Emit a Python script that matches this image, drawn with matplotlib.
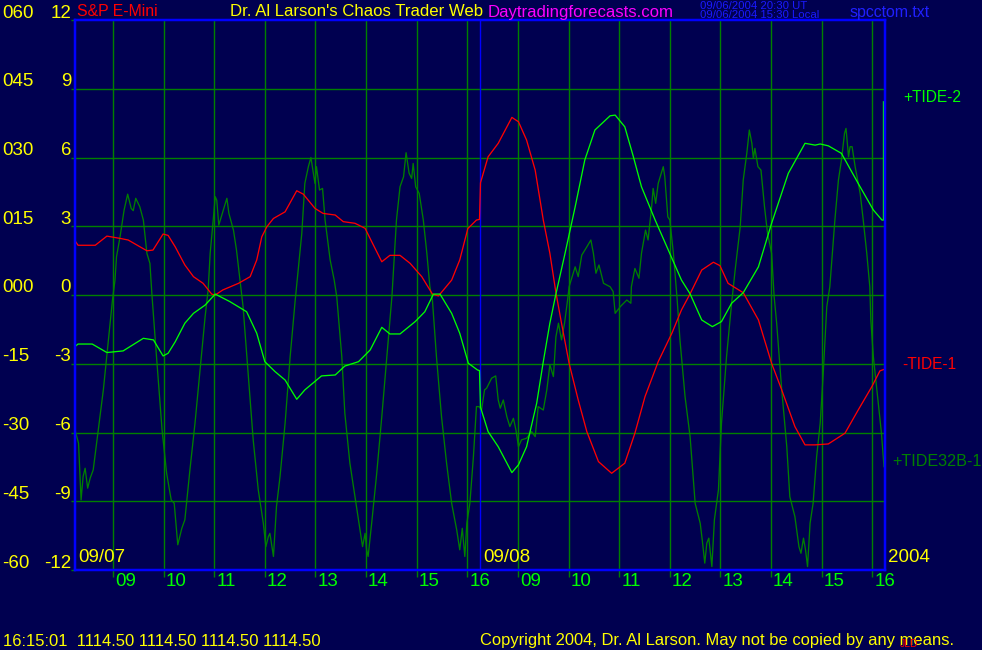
import matplotlib
matplotlib.use('Agg')
import matplotlib.pyplot as plt
import matplotlib.transforms as mtransforms

plt.rcParams['font.family'] = ['Liberation Sans', 'DejaVu Sans']

# ---------------- data ----------------
# x axis: trading hours counted from 08:15 on 09/07 (two sessions of 8 hours)
tide1_t = [0.00, 0.06, 0.40, 0.63, 0.89, 1.05, 1.42, 1.54, 1.74, 1.84, 1.98, 2.17, 2.34, 2.53,
           2.70, 2.77, 2.92, 3.23, 3.46, 3.59, 3.69, 3.79, 3.92, 4.15, 4.38, 4.51, 4.74, 4.90,
           5.14, 5.30, 5.53, 5.73, 5.86, 6.06, 6.22, 6.42, 6.62, 6.85, 7.06, 7.18, 7.44, 7.60,
           7.76, 7.93, 7.99, 8.01, 8.16, 8.36, 8.63, 8.76, 8.92, 9.09, 9.25, 9.38, 9.50, 9.61,
           9.76, 9.94, 10.11, 10.34, 10.60, 10.86, 11.06, 11.26, 11.52, 11.79, 11.98, 12.15,
           12.38, 12.61, 12.74, 12.90, 13.20, 13.50, 13.76, 13.96, 14.22, 14.42, 14.62, 14.88,
           15.21, 15.47, 15.74, 15.90, 15.99]
tide1_v = [2.37, 2.17, 2.17, 2.57, 2.47, 2.40, 1.93, 1.96, 2.66, 2.60, 2.10, 1.31, 0.80, 0.51,
           0.04, 0.00, 0.22, 0.51, 0.80, 1.53, 2.54, 2.98, 3.34, 3.63, 4.55, 4.40, 3.78, 3.56,
           3.49, 3.20, 3.13, 2.91, 2.33, 1.45, 1.73, 1.73, 1.38, 0.80, 0.04, -0.04, 0.65, 1.53,
           2.90, 3.27, 3.30, 4.90, 6.03, 6.62, 7.75, 7.56, 6.76, 5.45, 3.27, 1.82, 0.10, -1.23,
           -2.98, -4.58, -5.96, -7.27, -7.78, -7.34, -6.03, -4.43, -2.91, -1.67, -0.65, 0.05,
           1.09, 1.43, 1.28, 0.51, 0.10, -1.09, -2.98, -4.14, -5.74, -6.54, -6.54, -6.50,
           -6.03, -5.02, -4.00, -3.31, -3.24]

tide2_t = [0.00, 0.06, 0.34, 0.63, 0.95, 1.35, 1.55, 1.74, 1.84, 1.98, 2.17, 2.34, 2.57, 2.77,
           3.06, 3.39, 3.59, 3.75, 3.95, 4.15, 4.38, 4.54, 4.87, 5.14, 5.33, 5.60, 5.83, 6.06,
           6.22, 6.42, 6.72, 6.91, 7.08, 7.21, 7.44, 7.60, 7.77, 7.95, 7.99, 8.01, 8.16, 8.36,
           8.63, 8.76, 8.92, 9.12, 9.25, 9.38, 9.50, 9.68, 9.88, 10.07, 10.27, 10.57, 10.67,
           10.86, 11.03, 11.19, 11.46, 11.72, 11.98, 12.15, 12.38, 12.59, 12.77, 12.97, 13.20,
           13.50, 13.76, 14.09, 14.42, 14.62, 14.72, 14.88, 15.14, 15.47, 15.77, 15.94, 15.97,
           15.97]
tide2_v = [-2.25, -2.14, -2.14, -2.51, -2.44, -1.89, -1.96, -2.66, -2.54, -2.04, -1.23, -0.80,
           -0.44, 0.04, -0.29, -0.73, -1.67, -2.91, -3.34, -3.71, -4.55, -4.14, -3.53, -3.49,
           -3.10, -2.91, -2.40, -1.41, -1.70, -1.70, -1.16, -0.73, 0.04, 0.04, -0.80, -1.67,
           -2.98, -3.27, -3.30, -4.90, -5.96, -6.62, -7.75, -7.41, -6.62, -4.72, -2.91, -1.23,
           0.05, 1.82, 3.85, 5.89, 7.20, 7.82, 7.85, 7.34, 6.03, 4.72, 3.27, 1.96, 0.65, 0.05,
           -1.09, -1.38, -1.16, -0.36, 0.10, 1.23, 3.13, 5.31, 6.62, 6.54, 6.59, 6.51, 6.18,
           4.87, 3.71, 3.27, 3.27, 8.43]

tide32_t = [0.00, 0.07, 0.12, 0.16, 0.20, 0.25, 0.30, 0.36, 0.46, 0.56, 0.66, 0.74, 0.79, 0.82,
            0.89, 0.97, 1.04, 1.11, 1.15, 1.20, 1.28, 1.35, 1.42, 1.48, 1.52, 1.61, 1.72, 1.81,
            1.90, 1.96, 2.03, 2.11, 2.17, 2.27, 2.37, 2.47, 2.57, 2.63, 2.67, 2.73, 2.77, 2.80,
            2.84, 2.91, 3.00, 3.04, 3.13, 3.19, 3.26, 3.32, 3.42, 3.52, 3.62, 3.72, 3.77, 3.82,
            3.85, 3.92, 3.98, 4.05, 4.15, 4.25, 4.35, 4.48, 4.54, 4.61, 4.66, 4.71, 4.74, 4.77,
            4.83, 4.89, 4.94, 5.04, 5.12, 5.17, 5.27, 5.33, 5.43, 5.53, 5.63, 5.68, 5.73, 5.76,
            5.79, 5.86, 5.96, 6.06, 6.16, 6.26, 6.35, 6.42, 6.49, 6.54, 6.60, 6.65, 6.68, 6.73,
            6.80, 6.88, 6.95, 7.01, 7.06, 7.14, 7.24, 7.34, 7.44, 7.54, 7.60, 7.65, 7.70, 7.74,
            7.80, 7.87, 7.93, 7.98, 8.03, 8.09, 8.13, 8.23, 8.31, 8.36, 8.40, 8.46, 8.53, 8.59,
            8.66, 8.71, 8.76, 8.82, 8.92, 9.02, 9.09, 9.15, 9.25, 9.32, 9.38, 9.45, 9.50, 9.55,
            9.61, 9.67, 9.73, 9.76, 9.88, 9.94, 10.01, 10.11, 10.19, 10.24, 10.29, 10.35, 10.44,
            10.57, 10.63, 10.67, 10.77, 10.90, 10.98, 10.99, 11.06, 11.14, 11.19, 11.27, 11.32,
            11.39, 11.42, 11.47, 11.52, 11.62, 11.65, 11.71, 11.75, 11.82, 11.89, 11.95, 12.05,
            12.15, 12.25, 12.35, 12.39, 12.44, 12.48, 12.52, 12.58, 12.63, 12.71, 12.77, 12.87,
            12.97, 13.04, 13.14, 13.20, 13.27, 13.32, 13.37, 13.40, 13.43, 13.49, 13.55, 13.62,
            13.68, 13.76, 13.81, 13.86, 13.96, 14.06, 14.12, 14.22, 14.30, 14.34, 14.39, 14.43,
            14.47, 14.52, 14.58, 14.65, 14.72, 14.78, 14.85, 14.91, 15.01, 15.08, 15.14, 15.20,
            15.23, 15.28, 15.31, 15.35, 15.41, 15.51, 15.57, 15.64, 15.70, 15.72, 15.77, 15.86,
            15.93, 15.98]
tide32_v = [-5.89, -6.47, -8.94, -7.92, -7.56, -8.43, -7.99, -7.63, -5.89, -4.14, -1.96, -0.22,
            0.65, 1.67, 2.54, 3.71, 4.40, 3.78, 3.68, 4.22, 3.85, 3.27, 1.82, 1.38, 0.00, -2.69,
            -5.89, -7.78, -8.94, -9.09, -10.90, -10.18, -9.81, -7.63, -5.60, -3.27, -0.95, 0.22,
            1.82, 3.27, 4.29, 4.14, 3.05, 3.56, 4.22, 3.56, 2.83, 1.96, 0.65, -0.51, -3.41, -6.32,
            -8.50, -9.96, -10.98, -10.54, -10.40, -11.41, -9.23, -7.92, -5.60, -2.69, -0.22, 2.69,
            4.87, 5.60, 6.00, 5.31, 4.87, 5.60, 4.58, 4.65, 3.27, 1.53, 0.65, -0.07, -2.69, -5.16,
            -7.34, -8.80, -10.25, -10.98, -10.40, -11.12, -11.41, -9.96, -7.78, -5.31, -2.69,
            -0.07, 3.27, 4.72, 5.16, 6.21, 5.31, 5.09, 5.74, 4.72, 4.43, 3.27, 1.82, 0.36, -0.22,
            -2.69, -5.31, -7.34, -9.09, -10.25, -11.12, -10.18, -11.41, -9.96, -9.09, -7.05,
            -4.87, -4.87, -5.02, -4.14, -4.07, -3.63, -3.53, -4.58, -4.94, -4.58, -5.31, -5.74,
            -5.38, -5.89, -6.62, -6.32, -6.25, -5.96, -6.18, -4.87, -5.02, -4.14, -3.05, -3.56,
            -1.82, -1.23, -1.96, -1.23, -0.22, 0.36, 1.23, 0.80, 1.74, 2.10, 2.40, 1.82, 0.95,
            1.31, 0.51, 0.36, 0.15, -0.80, -0.51, -0.22, -0.36, 0.36, 1.16, 0.73, 1.82, 2.83,
            2.40, 3.85, 4.65, 4.00, 4.87, 5.60, 5.16, 3.41, 3.27, 1.82, -0.07, -1.96, -4.43,
            -6.18, -9.09, -9.96, -10.69, -11.70, -10.83, -10.61, -11.85, -9.81, -8.50, -5.60,
            -2.69, -0.36, 1.09, 2.98, 5.02, 6.18, 7.20, 6.62, 5.96, 6.40, 5.60, 5.45, 3.85, 2.69,
            1.82, -0.07, -1.23, -4.14, -6.62, -8.80, -9.67, -10.98, -11.27, -10.61, -11.12,
            -11.85, -9.96, -9.09, -7.05, -5.60, -3.41, -0.51, 0.36, 3.27, 5.02, 5.89, 7.05, 7.27,
            6.03, 6.47, 6.47, 5.60, 4.43, 3.27, 1.82, 0.36, -1.09, -2.69, -4.58, -6.03, -7.49]

left_ticks = [12, 9, 6, 3, 0, -3, -6, -9, -12]
left_labels_a = ['060', '045', '030', '015', '000', '-15', '-30', '-45', '-60']
left_labels_b = ['12', '9', '6', '3', '0', '-3', '-6', '-9', '-12']

hour_ticks = [0.75, 1.75, 2.75, 3.75, 4.75, 5.75, 6.75, 7.75,
              8.75, 9.75, 10.75, 11.75, 12.75, 13.75, 14.75, 15.75]
hour_labels = ['09', '10', '11', '12', '13', '14', '15', '16',
               '09', '10', '11', '12', '13', '14', '15', '16']
day_starts = [0, 8]
day_labels = ['09/07', '09/08']
year_label = '2004'

series_names = ['+TIDE-2', '-TIDE-1', '+TIDE32B-1']

# ---------------- style ----------------
W, H, DPI = 982, 650, 100
BG = '#000050'
GRID = '#008000'
BLUE = '#0000ff'
YEL = '#ffff00'
RED = '#ff0000'
LGREEN = '#00ff00'
DGREEN = '#008000'
PX = 72.0 / DPI  # one pixel in points

fig = plt.figure(figsize=(W / DPI, H / DPI), dpi=DPI, facecolor=BG)
L, R, T, B = 75, 885, 20, 570
ax = fig.add_axes([L / W, 1 - B / H, (R - L) / W, (B - T) / H], facecolor=BG)
ax.set_xlim(0, 16)
ax.set_ylim(-12, 12)

# grid
for v in left_ticks[1:-1]:
    ax.axhline(v, color=GRID, lw=1.4 * PX, zorder=1)
for t in hour_ticks:
    ax.axvline(t, color=GRID, lw=1.4 * PX, zorder=1)
ax.axvline(day_starts[1], color=BLUE, lw=1.4 * PX, zorder=1.5)

# ticks (short outward stubs, no default labels)
ax.set_yticks(left_ticks)
ax.set_xticks(hour_ticks)
ax.tick_params(axis='y', length=4 * PX, width=1.4 * PX, color=GRID, labelleft=False)
ax.tick_params(axis='x', length=7 * PX, width=1.4 * PX, color=GRID, labelbottom=False)

for s in ax.spines.values():
    s.set_color(BLUE)
    s.set_linewidth(2.5 * PX)
    s.set_zorder(5)

# series
ax.plot(tide32_t, tide32_v, color=DGREEN, lw=1.3 * PX, zorder=2)
ax.plot(tide1_t, tide1_v, color=RED, lw=1.3 * PX, zorder=3)
ax.plot(tide2_t, tide2_v, color=LGREEN, lw=1.3 * PX, zorder=4)

# left labels (figure-pixel x, data y, lifted a few px)
tr_fy = mtransforms.blended_transform_factory(fig.transFigure, ax.transData)
tr_fy = mtransforms.offset_copy(tr_fy, fig=fig, x=0, y=7, units='dots')
for v, a, b in zip(left_ticks, left_labels_a, left_labels_b):
    ax.text(2 / W, v, a, transform=tr_fy, ha='left', va='center', color=YEL,
            fontsize=13.5, clip_on=False)
    ax.text(71 / W, v, b, transform=tr_fy, ha='right', va='center', color=YEL,
            fontsize=13.5, clip_on=False)

# hour labels
tr_xf = mtransforms.blended_transform_factory(ax.transData, fig.transFigure)
tr_xf = mtransforms.offset_copy(tr_xf, fig=fig, x=2, y=0, units='dots')
for t, lab in zip(hour_ticks, hour_labels):
    ax.text(t, 1 - 581 / H, lab, transform=tr_xf, ha='left', va='center',
            color=LGREEN, fontsize=13.5, clip_on=False)

# day labels inside the plot
tr_day = mtransforms.offset_copy(
    mtransforms.blended_transform_factory(ax.transData, fig.transFigure),
    fig=fig, x=3, y=0, units='dots')
for t, lab in zip(day_starts, day_labels):
    ax.text(t, 1 - 558 / H, lab, transform=tr_day, ha='left', va='center',
            color=YEL, fontsize=13.5, zorder=6)
fig.text(888 / W, 1 - 558 / H, year_label, ha='left', va='center', color=YEL, fontsize=13.5)

# series labels at right
fig.text(903 / W, 1 - 97 / H, series_names[0], ha='left', va='center', color=LGREEN, fontsize=11.2)
fig.text(902 / W, 1 - 364 / H, series_names[1], ha='left', va='center', color=RED, fontsize=11.2)
fig.text(892 / W, 1 - 462 / H, series_names[2], ha='left', va='center', color=DGREEN, fontsize=11.6)

# header
fig.text(77 / W, 1 - 12 / H, 'S&P E-Mini', ha='left', va='center', color=RED, fontsize=11.4)
fig.text(230 / W, 1 - 12 / H, "Dr. Al Larson's Chaos Trader Web", ha='left', va='center',
         color=YEL, fontsize=12.1)
fig.text(488 / W, 1 - 12 / H, 'Daytradingforecasts.com', ha='left', va='center',
         color='#ff00ff', fontsize=12.1)
fig.text(700 / W, 1 - 6 / H, '09/06/2004 20:30 UT', ha='left', va='center',
         color='#1a1aff', fontsize=8.2)
fig.text(700 / W, 1 - 15 / H, '09/06/2004 15:30 Local', ha='left', va='center',
         color='#1a1aff', fontsize=8.2)
fig.text(850 / W, 1 - 12 / H, 'spcctom.txt', ha='left', va='center', color='#2020ff', fontsize=11.4)

# footer
fig.text(3 / W, 1 - 641 / H, '16:15:01  1114.50 1114.50 1114.50 1114.50', ha='left',
         va='center', color=YEL, fontsize=12.0)
fig.text(480 / W, 1 - 641 / H, 'Copyright 2004, Dr. Al Larson. May not be copied by any means.',
         ha='left', va='center', color=YEL, fontsize=11.9)
fig.text(900 / W, 1 - 644 / H, 'JLD', ha='left', va='center', color=RED, fontsize=7.5)

fig.savefig('out.png', dpi=DPI, facecolor=BG)
